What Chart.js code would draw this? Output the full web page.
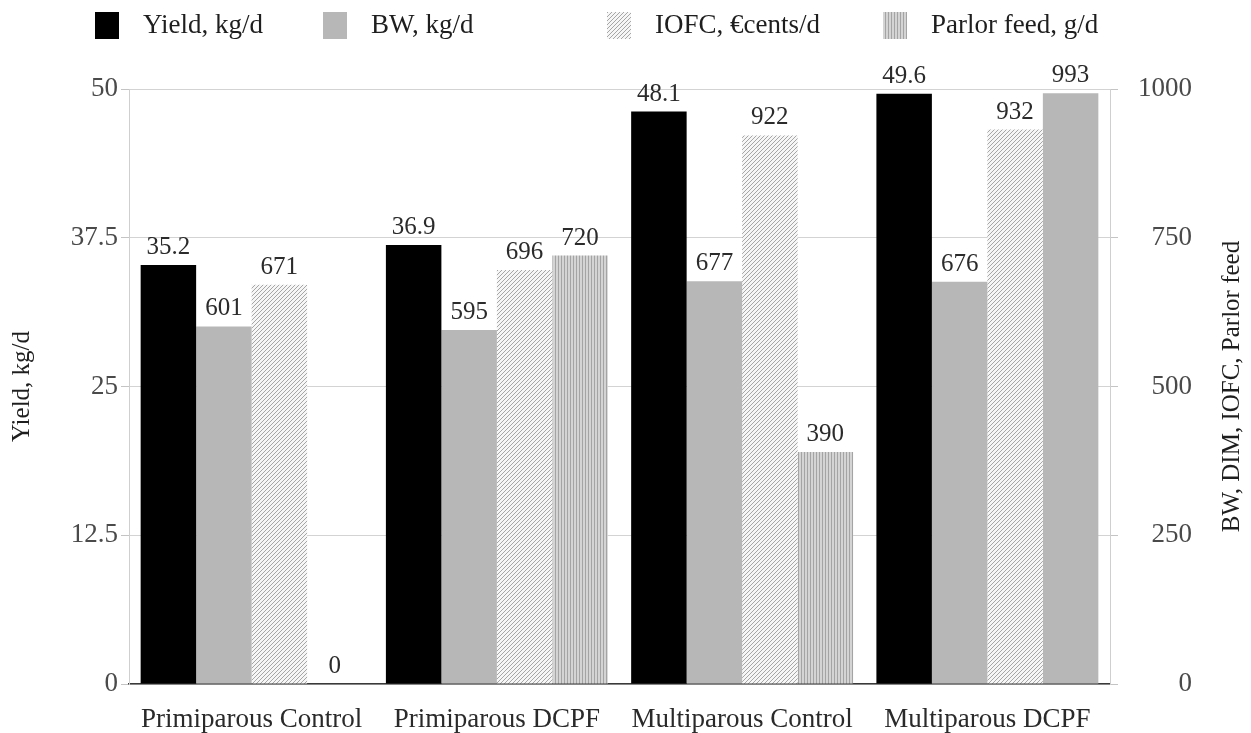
<!DOCTYPE html>
<html>
<head>
<meta charset="utf-8">
<script src="https://cdn.jsdelivr.net/npm/chart.js@4/dist/chart.umd.min.js"></script>
<style>
  html, body { margin: 0; padding: 0; background: #fff; }
  #wrap { width: 1251px; height: 733px; position: relative; }
</style>
</head>
<body>
<div id="wrap"><canvas id="chart"></canvas></div>
<script>
// Group labels and the four measured series
const categories = ['Primiparous Control', 'Primiparous DCPF', 'Multiparous Control', 'Multiparous DCPF'];
const seriesNames = ['Yield, kg/d', 'BW, kg/d', 'IOFC, €cents/d', 'Parlor feed, g/d'];
const yieldKg = [35.2, 36.9, 48.1, 49.6];
const bodyWeight = [601, 595, 677, 676];
const iofc = [671, 696, 922, 932];
const parlorFeed = [0, 720, 390, 993];

// Axis tick values
const yieldTicks = [0, 12.5, 25, 37.5, 50];
const rightTicks = [0, 250, 500, 750, 1000];

const SERIF = "'Liberation Serif', 'DejaVu Serif', serif";
const canvas = document.getElementById('chart');
const ctx = canvas.getContext('2d');

// Fill patterns for the hatched series
function diagonalHatch() {
  const t = document.createElement('canvas');
  t.width = 4; t.height = 4;
  const g = t.getContext('2d');
  g.fillStyle = '#f6f6f6';
  g.fillRect(0, 0, 4, 4);
  g.fillStyle = '#a6a6a6';
  for (let y = 0; y < 4; y++) {
    for (let x = 0; x < 4; x++) {
      if ((x + y) % 4 === 3) g.fillRect(x, y, 1, 1);
    }
  }
  return ctx.createPattern(t, 'repeat');
}
function verticalStripes() {
  const t = document.createElement('canvas');
  t.width = 3; t.height = 3;
  const g = t.getContext('2d');
  g.fillStyle = '#d4d4d4';
  g.fillRect(0, 0, 3, 3);
  g.fillStyle = '#a4a4a4';
  g.fillRect(0, 0, 1, 3);
  return ctx.createPattern(t, 'repeat');
}
const hatch = diagonalHatch();
const stripes = verticalStripes();
const solidGray = '#b7b7b7';

// Value labels above each bar
const valueLabels = {
  id: 'valueLabels',
  afterDatasetsDraw(chart) {
    const c = chart.ctx;
    c.save();
    c.font = "25px " + SERIF;
    c.fillStyle = '#2b2b2b';
    c.textAlign = 'center';
    c.textBaseline = 'bottom';
    chart.data.datasets.forEach((ds, i) => {
      const meta = chart.getDatasetMeta(i);
      meta.data.forEach((el, j) => {
        const v = ds.data[j];
        const txt = i === 0 ? v.toFixed(1) : String(v);
        c.fillText(txt, el.x, el.y - 5);
      });
    });
    c.restore();
  }
};

// Legend row across the top; each entry has its own left edge
const legendLeft = [95, 323, 607, 883];
const topLegend = {
  id: 'topLegend',
  afterDraw(chart) {
    const c = chart.ctx;
    c.save();
    c.font = "27px " + SERIF;
    const box = 24, gapText = 24, cy = 25;
    chart.data.datasets.forEach((ds, i) => {
      const x = legendLeft[i];
      c.fillStyle = ds.legendFill;
      c.fillRect(x, cy - 13, box, 27);
      c.fillStyle = '#1e1e1e';
      c.textAlign = 'left';
      c.textBaseline = 'middle';
      c.fillText(ds.label, x + box + gapText, cy + 1);
    });
    c.restore();
  }
};

// Title of the right-hand axis, reading bottom to top
const rightTitle = {
  id: 'rightTitle',
  afterDraw(chart) {
    const c = chart.ctx;
    const area = chart.chartArea;
    c.save();
    c.translate(1232, (area.top + area.bottom) / 2);
    c.rotate(-Math.PI / 2);
    c.font = "25px " + SERIF;
    c.fillStyle = '#1e1e1e';
    c.textAlign = 'center';
    c.textBaseline = 'middle';
    c.fillText('BW, DIM, IOFC, Parlor feed', 0, 0);
    c.restore();
  }
};

new Chart(canvas, {
  type: 'bar',
  data: {
    labels: categories,
    datasets: [
      { label: seriesNames[0], data: yieldKg, yAxisID: 'y', backgroundColor: '#000000', legendFill: '#000000' },
      { label: seriesNames[1], data: bodyWeight, yAxisID: 'y1', backgroundColor: solidGray, legendFill: solidGray },
      { label: seriesNames[2], data: iofc, yAxisID: 'y1', backgroundColor: hatch, legendFill: hatch },
      { label: seriesNames[3], data: parlorFeed, yAxisID: 'y1',
        backgroundColor: parlorFeed.map((v, i) => i === parlorFeed.length - 1 ? solidGray : stripes),
        legendFill: stripes }
    ]
  },
  options: {
    responsive: true,
    maintainAspectRatio: false,
    animation: false,
    layout: { padding: { top: 89, right: 59, bottom: 0, left: 0 } },
    datasets: { bar: { categoryPercentage: 0.905, barPercentage: 1.0, borderWidth: 0 } },
    plugins: { legend: { display: false }, tooltip: { enabled: false } },
    scales: {
      x: {
        grid: { display: false, drawTicks: false },
        border: { display: true, color: '#3a3a3a', width: 1.5 },
        ticks: { color: '#2a2a2a', font: { family: SERIF, size: 27 }, padding: 20, maxRotation: 0, autoSkip: false },
        afterFit(scale) { scale.height = 49; }
      },
      y: {
        position: 'left',
        min: 0, max: 50,
        afterBuildTicks(scale) { scale.ticks = yieldTicks.map(v => ({ value: v })); },
        grid: { color: '#d3d3d3', tickColor: '#c4c4c4', tickLength: 8 },
        border: { display: true, color: '#cfcfcf' },
        ticks: { color: '#4a4a4a', font: { family: SERIF, size: 27 }, padding: 3, callback: v => String(v) },
        title: { display: true, text: 'Yield, kg/d', color: '#1e1e1e', font: { family: SERIF, size: 25 }, padding: { top: 7, bottom: 0 } },
        afterFit(scale) { scale.width = 129; }
      },
      y1: {
        position: 'right',
        min: 0, max: 1000,
        afterBuildTicks(scale) { scale.ticks = rightTicks.map(v => ({ value: v })); },
        grid: { drawOnChartArea: false, tickColor: '#c4c4c4', tickLength: 8 },
        border: { display: true, color: '#cfcfcf' },
        ticks: { color: '#4a4a4a', font: { family: SERIF, size: 27 }, padding: 19, crossAlign: 'far', callback: v => String(v) },
        afterFit(scale) { scale.width = 82; }
      }
    }
  },
  plugins: [valueLabels, topLegend, rightTitle]
});
</script>
</body>
</html>
